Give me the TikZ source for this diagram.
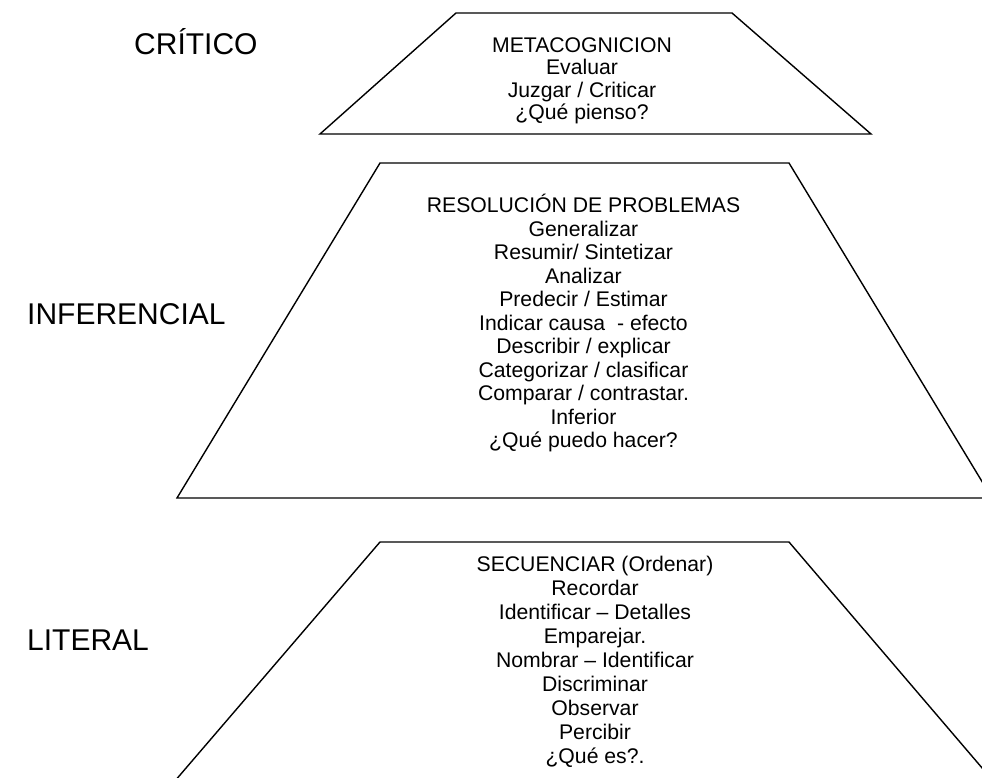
\documentclass[tikz,border=0pt]{standalone}
\usepackage{fontspec}
\setmainfont{Liberation Sans}
\begin{document}
\begin{tikzpicture}[x=1pt,y=-1pt,
  trap/.style={draw=black,line width=1.4pt,line join=miter},
  item/.style={anchor=base,font=\fontsize{21.2}{24}\selectfont,inner sep=0pt},
  level/.style={anchor=base west,font=\fontsize{30}{34}\selectfont,inner sep=0pt}]
\useasboundingbox (0,0) rectangle (982,778);
\clip (0,0) rectangle (982,778);
\fill[white] (0,0) rectangle (982,778);
% trapezoids
\draw[trap] (456,13) -- (732,13) -- (871,134) -- (320,134) -- cycle;
\draw[trap] (380,163) -- (789,163) -- (992,498) -- (177,498) -- cycle;
\draw[trap] (150,810) -- (380,542) -- (789,542) -- (1018,810);
% level labels
\node[level] (critico) at (134,55) {CRÍTICO};
\node[level] (inferencial) at (27,324) {INFERENCIAL};
\node[level] (literal) at (27,650) {LITERAL};
% top box
\foreach \t [count=\i from 0] in {METACOGNICION, Evaluar, Juzgar / Criticar, ¿Qué pienso?}
  \node[item] (top\i) at (582,{52.6+22.3*\i}) {\t};
% middle box
\foreach \t [count=\i from 0] in {RESOLUCIÓN DE PROBLEMAS, Generalizar, Resumir/ Sintetizar, Analizar, Predecir / Estimar, Indicar causa\ \ - efecto, Describir / explicar, Categorizar / clasificar, Comparar / contrastar., Inferior, ¿Qué puedo hacer?}
  \node[item] (mid\i) at (583.5,{212.6+23.5*\i}) {\t};
% bottom box
\foreach \t [count=\i from 0] in {SECUENCIAR (Ordenar), Recordar, Identificar – Detalles, Emparejar., Nombrar – Identificar, Discriminar, Observar, Percibir, ¿Qué es?.}
  \node[item] (bot\i) at (595,{571.6+24*\i}) {\t};
\end{tikzpicture}
\end{document}
